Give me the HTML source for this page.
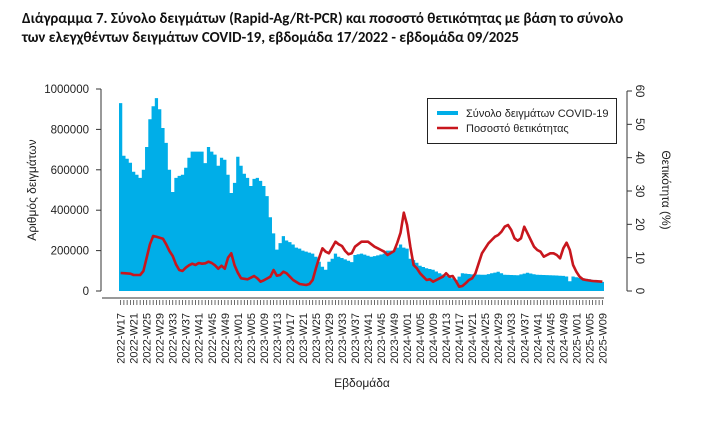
<!DOCTYPE html>
<html><head><meta charset="utf-8">
<style>
html,body{margin:0;padding:0;background:#fff;}
body{width:717px;height:435px;overflow:hidden;position:relative;}
.t{position:absolute;left:22px;font-family:"Carlito","Liberation Sans","DejaVu Sans",sans-serif;font-weight:bold;font-size:14.9px;color:#111;white-space:nowrap;}
svg{position:absolute;left:0;top:0;}
text{font-family:"Liberation Sans","DejaVu Sans",sans-serif;fill:#222;}
</style></head><body>
<div class="t" style="top:10px">Διάγραμμα 7. Σύνολο δειγμάτων (Rapid-Ag/Rt-PCR) και ποσοστό θετικότητας με βάση το σύνολο</div>
<div class="t" style="top:29px">των ελεγχθέντων δειγμάτων COVID-19, εβδομάδα 17/2022 - εβδομάδα 09/2025</div>
<svg id="s" width="717" height="435" xmlns="http://www.w3.org/2000/svg"></svg>
<script>
var N=149,x0=119,bw=485/149,y0=291,ppk=202/1000;
function interp(pts){var a=[];for(var i=0;i<N;i++){var j=0;while(j<pts.length-2&&pts[j+1][0]<=i)j++;var p=pts[j],q=pts[j+1];var t=(i-p[0])/(q[0]-p[0]);if(t<0)t=0;if(t>1)t=1;a.push(p[1]+(q[1]-p[1])*t);}return a;}
var bars=[930,670,655,635,590,575,560,600,713,850,915,955,900,807,733,600,490,560,570,575,610,660,690,690,690,690,633,713,690,675,620,660,650,575,485,535,665,620,580,560,520,555,560,545,520,470,365,285,205,237,272,250,242,230,215,210,200,195,190,185,170,145,120,105,145,160,185];
var rest=[[67,170],[70,150],[71,143],[72,178],[74,185],[77,170],[79,176],[81,185],[82,200],[84,200],[85,215],[86,230],[87,215],[88,210],[89,160],[90,153],[91,140],[92,125],[94,113],[96,105],[98,88],[100,75],[102,63],[103,55],[105,88],[108,82],[112,80],[116,95],[118,80],[122,78],[125,90],[128,80],[132,78],[136,75],[137,72],[138,48],[139,72],[141,65],[144,58],[148,45]];
var restA=interp([[66,185]].concat(rest));
for(var i=67;i<N;i++)bars.push(restA[i]);
var pct=interp([[0,5.4],[3,5.2],[4,4.8],[6,4.8],[7,6],[8,10],[9,14],[10,16.5],[12,16],[13,15.7],[14,14],[15,12],[16,10.5],[17,8],[18,6.3],[19,6],[20,7],[21,7.7],[22,8.2],[23,7.8],[24,8.4],[25,8.2],[26,8.3],[27,8.8],[28,8.4],[29,7.7],[30,6.7],[31,7.6],[32,6.7],[33,10],[34,11.3],[35,7.7],[36,5.5],[37,3.8],[39,3.5],[41,4.5],[42,3.8],[43,2.8],[44,3.2],[46,4.3],[47,6.3],[48,4.6],[49,4.8],[50,5.8],[51,5.3],[53,3.3],[55,2.1],[57,1.8],[58,2.1],[59,3.3],[60,6.8],[61,10],[62,12.8],[63,11.8],[64,11.3],[66,14.8],[67,14],[68,13.5],[69,12],[70,11],[71,11.3],[72,13.3],[74,14.8],[76,14.8],[78,13.3],[79,12.8],[81,11.8],[82,10.8],[84,12],[85,14.5],[86,17.5],[87,23.5],[88,19.8],[89,13.3],[90,7.8],[91,6.8],[92,5.3],[93,4.3],[94,3.3],[95,3.5],[96,2.8],[97,3.3],[98,3.8],[99,4.3],[100,5.3],[101,4.3],[102,4.5],[103,3],[104,1.3],[105,1.5],[106,2.3],[107,3.3],[108,3.8],[109,5.3],[110,8.3],[111,11.3],[112,12.8],[113,14.3],[114,15.3],[115,16.3],[116,16.8],[117,17.8],[118,19.3],[119,19.8],[120,18.3],[121,15.8],[122,15.1],[123,15.8],[124,19.3],[125,17.3],[126,15.3],[127,13.3],[128,12.3],[129,11.8],[130,10.3],[131,10.8],[132,11.3],[133,11.3],[134,10.8],[135,9.8],[136,12.8],[137,14.5],[138,12.3],[139,7.8],[140,5.8],[141,4.3],[142,3.5],[143,3.3],[145,3],[148,2.8]]);
var s='';
var d='M'+x0+','+y0;
for(var i=0;i<N;i++){var y=y0-bars[i]*ppk;d+=' L'+(x0+i*bw).toFixed(2)+','+y.toFixed(1)+' L'+(x0+(i+1)*bw).toFixed(2)+','+y.toFixed(1);}
d+=' L'+(x0+N*bw)+','+y0+' Z';
s+='<path d="'+d+'" fill="#00aee8"/>';
var pl='';
for(var i=0;i<N;i++){pl+=(x0+(i+0.5)*bw).toFixed(2)+','+(y0-pct[i]*200/60).toFixed(1)+' ';}
s+='<polyline points="'+pl+'" fill="none" stroke="#c8161d" stroke-width="2.6" stroke-linejoin="round"/>';
s+='<line x1="101" y1="89" x2="101" y2="291" stroke="#333"/>';
for(var k=0;k<=5;k++){var y=291-k*40.4;s+='<line x1="96" y1="'+y+'" x2="101" y2="'+y+'" stroke="#333"/><text x="89" y="'+(y+4)+'" font-size="11.5" text-anchor="end">'+(k*200000)+'</text>';}
s+='<text transform="translate(36,190) rotate(-90)" font-size="12" text-anchor="middle">Αριθμός δειγμάτων</text>';
s+='<line x1="627" y1="91" x2="627" y2="291" stroke="#333"/>';
for(var k=0;k<=6;k++){var y=291-k*200/6;s+='<line x1="627" y1="'+y+'" x2="632" y2="'+y+'" stroke="#333"/><text transform="translate(636,'+y+') rotate(90)" font-size="11.5" text-anchor="middle">'+(k*10)+'</text>';}
s+='<text transform="translate(662,190) rotate(90)" font-size="12" text-anchor="middle">Θετικότητα (%)</text>';
s+='<line x1="102" y1="298" x2="604" y2="298" stroke="#333"/>';
for(var i=0;i<N;i++){var x=(x0+(i+0.5)*bw).toFixed(2);s+='<line x1="'+x+'" y1="300" x2="'+x+'" y2="305" stroke="#444" stroke-width="0.8"/>';}
for(var i=0;i<N;i+=4){var yr,w;if(i<36){yr=2022;w=17+i;}else if(i<88){yr=2023;w=i-35;}else if(i<140){yr=2024;w=i-87;}else{yr=2025;w=i-139;}
var x=x0+(i+0.5)*bw+4;s+='<text transform="translate('+x.toFixed(1)+',313) rotate(-90)" font-size="11" text-anchor="end">'+yr+'-W'+(w<10?'0':'')+w+'</text>';}
s+='<text x="362" y="387" font-size="12" text-anchor="middle">Εβδομάδα</text>';
s+='<rect x="427.5" y="98.5" width="189" height="45" fill="#fff" stroke="#222"/>';
s+='<line x1="437" y1="113" x2="458" y2="113" stroke="#00aee8" stroke-width="4"/><text x="466" y="117" font-size="11">Σύνολο δειγμάτων COVID-19</text>';
s+='<line x1="437" y1="128" x2="458" y2="128" stroke="#c8161d" stroke-width="2.5"/><text x="466" y="132" font-size="11">Ποσοστό θετικότητας</text>';
document.getElementById('s').innerHTML=s;
</script>
</body></html>
